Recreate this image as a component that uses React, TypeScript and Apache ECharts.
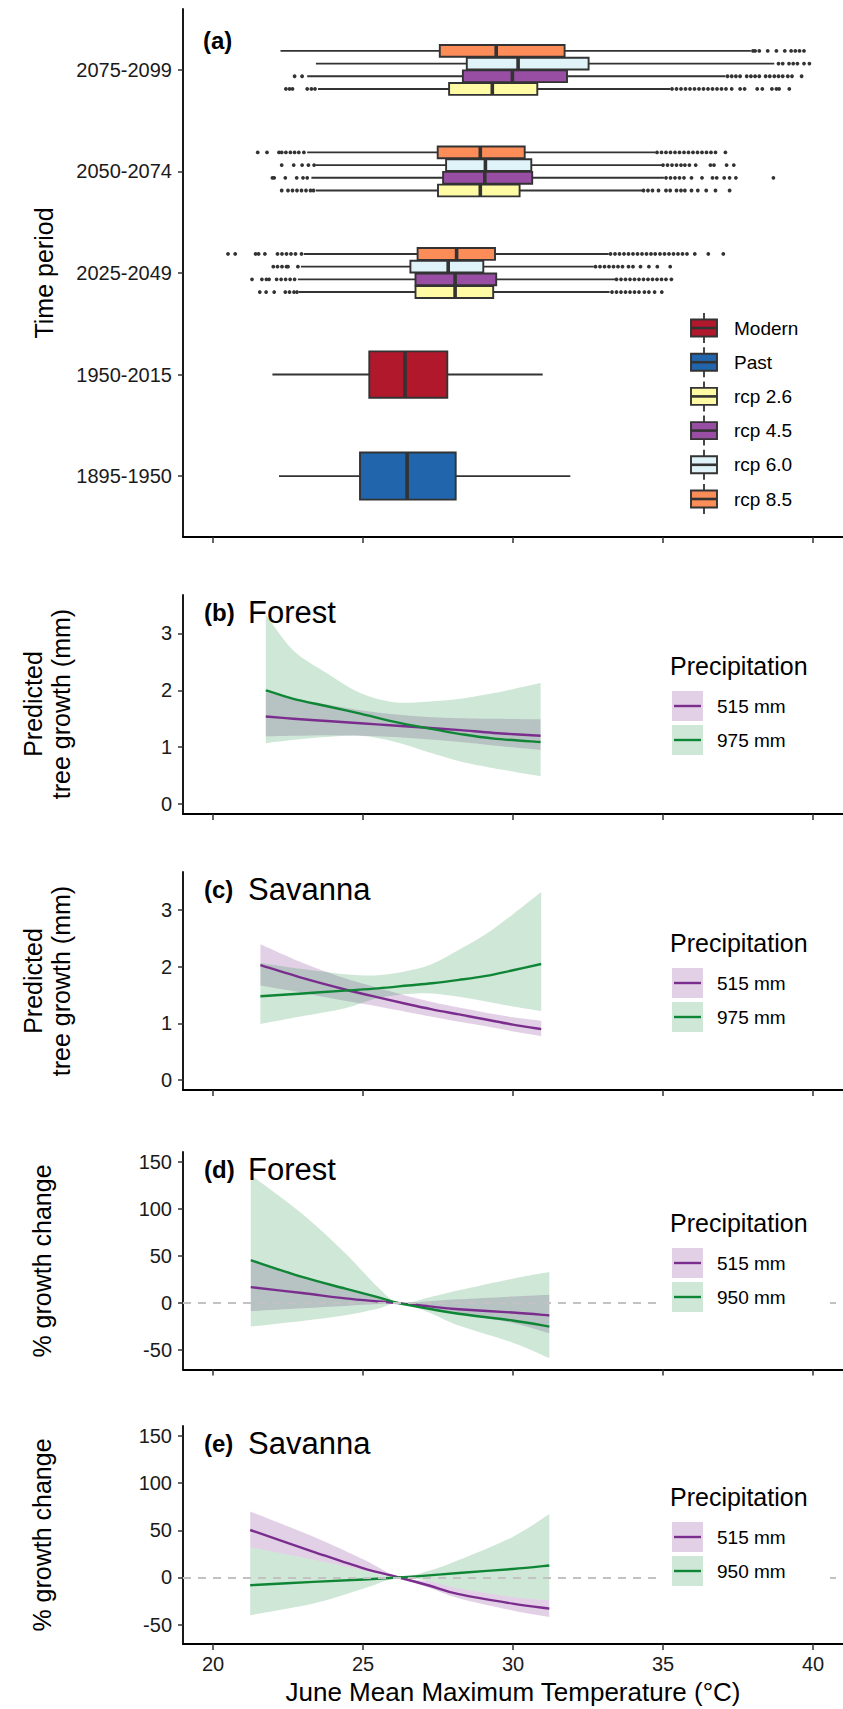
import React, { useEffect, useRef } from "react";
import * as echarts from "echarts";

// ---------- Panel (a) data ----------
const periods = ["1895-1950", "1950-2015", "2025-2049", "2050-2074", "2075-2099"];
const scenarioNames = ["Modern", "Past", "rcp 2.6", "rcp 4.5", "rcp 6.0", "rcp 8.5"];
const scenarioColors = ["#B2182B", "#2166AC", "#FFFBA5", "#984EA3", "#E0F3F8", "#FC8D59"];

// [period position (1 = 1895-1950 ... 5 = 2075-2099), whisker low, Q1, median, Q3, whisker high]
const pastBox = [[1, 22.2, 24.9, 26.47, 28.09, 31.91]];
const modernBox = [[2, 21.98, 25.21, 26.4, 27.81, 30.99]];
const rcp26Box = [
  [3, 22.86, 26.75, 28.07, 29.34, 33.22],
  [4, 23.43, 27.5, 28.91, 30.22, 34.32],
  [5, 23.5, 27.87, 29.31, 30.81, 35.24],
];
const rcp45Box = [
  [3, 22.83, 26.75, 28.07, 29.44, 33.4],
  [4, 23.28, 27.67, 29.06, 30.64, 35.03],
  [5, 23.14, 28.33, 29.98, 31.8, 37.08],
];
const rcp60Box = [
  [3, 22.93, 26.58, 27.84, 29.01, 32.69],
  [4, 23.43, 27.77, 29.08, 30.61, 34.96],
  [5, 23.43, 28.46, 30.17, 32.52, 38.71],
];
const rcp85Box = [
  [3, 23.03, 26.82, 28.12, 29.4, 33.19],
  [4, 23.14, 27.49, 28.91, 30.39, 34.74],
  [5, 22.25, 27.56, 29.44, 31.72, 37.93],
];

// outliers per period
const rcp26Out2025 = [21.56, 21.77, 22.04, 22.41, 22.55, 22.7, 22.8, 33.3, 33.45, 33.6, 33.75, 33.9, 34.05, 34.2, 34.38, 34.53, 34.72, 34.96];
const rcp26Out2050 = [22.29, 22.5, 22.65, 22.8, 22.95, 23.1, 23.25, 23.35, 34.35, 34.5, 34.65, 34.85, 35.1, 35.24, 35.45, 35.6, 35.73, 35.95, 36.16, 36.44, 36.75, 37.22];
const rcp26Out2075 = [22.43, 22.55, 22.65, 23.14, 23.28, 23.4, 35.3, 35.45, 35.6, 35.75, 35.9, 36.05, 36.2, 36.35, 36.5, 36.65, 36.8, 36.95, 37.1, 37.29, 37.57, 37.72, 38.14, 38.31, 38.63, 38.78, 38.87, 39.21];
const rcp45Out2025 = [21.3, 21.63, 21.78, 21.87, 22.12, 22.27, 22.42, 22.57, 22.72, 33.45, 33.6, 33.75, 33.9, 34.05, 34.2, 34.35, 34.5, 34.65, 34.8, 34.95, 35.1, 35.28];
const rcp45Out2050 = [21.98, 22.04, 22.41, 22.79, 23.0, 23.14, 35.1, 35.25, 35.4, 35.55, 35.7, 35.95, 36.3, 36.65, 36.79, 37.04, 37.22, 37.43, 38.68];
const rcp45Out2075 = [22.72, 22.97, 37.15, 37.29, 37.43, 37.57, 37.79, 37.93, 38.07, 38.21, 38.42, 38.56, 38.71, 38.85, 38.99, 39.16, 39.3, 39.62];
const rcp60Out2025 = [22.01, 22.15, 22.3, 22.45, 22.5, 22.83, 32.75, 32.9, 33.05, 33.2, 33.35, 33.5, 33.65, 33.85, 34.0, 34.25, 34.53, 34.81, 35.24];
const rcp60Out2050 = [22.29, 22.69, 22.97, 23.18, 23.37, 35.0, 35.15, 35.3, 35.45, 35.6, 35.73, 35.88, 36.09, 36.58, 36.7, 37.12, 37.36];
const rcp60Out2075 = [38.85, 38.99, 39.2, 39.34, 39.48, 39.7, 39.88];
const rcp85Out2025 = [20.5, 20.74, 21.42, 21.52, 21.73, 22.15, 22.3, 22.45, 22.6, 22.75, 22.95, 33.25, 33.4, 33.55, 33.7, 33.85, 34.0, 34.15, 34.3, 34.45, 34.6, 34.74, 34.9, 35.05, 35.2, 35.35, 35.5, 35.65, 35.8, 36.06, 36.51, 37.01];
const rcp85Out2050 = [21.49, 21.8, 22.2, 22.29, 22.43, 22.58, 22.72, 22.86, 23.03, 34.8, 34.95, 35.1, 35.25, 35.4, 35.55, 35.7, 35.85, 36.0, 36.15, 36.3, 36.45, 36.6, 36.75, 37.08];
const rcp85Out2075 = [38.0, 38.07, 38.21, 38.49, 38.78, 39.06, 39.27, 39.41, 39.55, 39.7];

// ---------- Axis ticks ----------
const xTicks = [20, 25, 30, 35, 40];
const growthTicks = [0, 1, 2, 3];
const changeTicks = [-50, 0, 50, 100, 150];

// ---------- Panel (b) Forest growth ----------
const bX = [21.76, 22.68, 23.8, 24.91, 26.02, 27.13, 28.25, 29.36, 30.92];
const bPurpleLine = [1.54, 1.5, 1.46, 1.42, 1.38, 1.34, 1.3, 1.25, 1.2];
const bPurpleLo = [1.19, 1.2, 1.21, 1.2, 1.18, 1.14, 1.09, 1.03, 0.95];
const bPurpleHi = [1.97, 1.86, 1.75, 1.65, 1.58, 1.53, 1.51, 1.5, 1.49];
const bGreenLine = [2.0, 1.85, 1.72, 1.59, 1.45, 1.335, 1.23, 1.15, 1.09];
const bGreenLo = [1.07, 1.13, 1.18, 1.2, 1.1, 0.92, 0.75, 0.63, 0.49];
const bGreenHi = [3.33, 2.7, 2.3, 1.95, 1.79, 1.8, 1.85, 1.95, 2.13];

// ---------- Panel (c) Savanna growth ----------
const cX = [21.58, 23, 24.4, 25.5, 26.5, 27.3, 28.2, 29.1, 30, 30.94];
const cPurpleLine = [2.03, 1.8, 1.6, 1.46, 1.34, 1.25, 1.16, 1.07, 0.98, 0.9];
const cPurpleLo = [1.67, 1.54, 1.4, 1.3, 1.2, 1.12, 1.03, 0.95, 0.86, 0.78];
const cPurpleHi = [2.4, 2.07, 1.8, 1.63, 1.48, 1.38, 1.28, 1.19, 1.11, 1.05];
const cGreenLine = [1.48, 1.53, 1.58, 1.62, 1.67, 1.71, 1.77, 1.84, 1.94, 2.05];
const cGreenLo = [0.99, 1.13, 1.27, 1.45, 1.52, 1.53, 1.47, 1.39, 1.3, 1.22];
const cGreenHi = [2.07, 1.96, 1.87, 1.85, 1.93, 2.05, 2.3, 2.58, 2.93, 3.32];

// ---------- Panel (d) Forest % change ----------
const dX = [21.26, 22.97, 24.41, 25.49, 26.2, 27.2, 28.19, 29.99, 31.21];
const dPurpleLine = [17, 10.7, 5, 1.8, 0, -3.5, -6.5, -10, -13.1];
const dPurpleLo = [-8.5, -5.5, -3, -1, 0, -6, -11, -21, -32];
const dPurpleHi = [45, 28, 15, 6, 0, 2, 4, 7, 9];
const dGreenLine = [45.6, 27.8, 15.4, 6.4, 0, -6, -11.3, -18.5, -24.9];
const dGreenLo = [-24.9, -19, -13, -6, 0, -10, -23.8, -42, -58.3];
const dGreenHi = [136, 95, 53, 17, 0, 6, 13.6, 26, 33];

// ---------- Panel (e) Savanna % change ----------
const eX = [21.24, 23.35, 25.02, 26.2, 27.2, 28.19, 29.99, 31.21];
const ePurpleLine = [50.3, 27.2, 9.6, 0, -8.5, -17.7, -27.7, -33];
const ePurpleLo = [32, 18.7, 7.5, 0, -11, -22, -35, -41.9];
const ePurpleHi = [69.8, 43.2, 19.1, 0, -4, -11.7, -20.6, -24];
const eGreenLine = [-8.2, -4.7, -2.1, 0, 2.2, 4.8, 9, 12.7];
const eGreenLo = [-40, -27.7, -11.7, 0, -4, -11.7, -20.6, -24];
const eGreenHi = [32, 18.7, 7.5, 0, 7, 18.4, 43, 67.3];

const FONT = "'Liberation Sans', Arial, Helvetica, sans-serif";
const PURPLE = "#7B2D8E";
const GREEN = "#0F8536";
const PURPLE_FILL = "rgba(123,45,142,0.22)";
const GREEN_FILL = "rgba(15,133,54,0.2)";

const grids = [
  { left: 183, top: 9, width: 660, height: 528 },
  { left: 183, top: 595, width: 660, height: 219 },
  { left: 183, top: 872, width: 660, height: 218 },
  { left: 183, top: 1152, width: 660, height: 217.5 },
  { left: 183, top: 1426, width: 660, height: 218 },
];

// Smooth (Catmull-Rom as bezier) band / curve shape, drawn through pixel points given by the axes
echarts.graphic.registerShape(
  "smoothBand",
  (echarts.graphic as any).extendShape({
    shape: { upper: [], lower: [] },
    buildPath(ctx: any, shape: any) {
      const draw = (pts: number[][], move: boolean) => {
        const n = pts.length;
        if (!n) return;
        if (move) ctx.moveTo(pts[0][0], pts[0][1]);
        else ctx.lineTo(pts[0][0], pts[0][1]);
        const t = 1 / 6;
        for (let i = 0; i < n - 1; i++) {
          const p0 = pts[Math.max(i - 1, 0)];
          const p1 = pts[i];
          const p2 = pts[i + 1];
          const p3 = pts[Math.min(i + 2, n - 1)];
          ctx.bezierCurveTo(
            p1[0] + (p2[0] - p0[0]) * t,
            p1[1] + (p2[1] - p0[1]) * t,
            p2[0] - (p3[0] - p1[0]) * t,
            p2[1] - (p3[1] - p1[1]) * t,
            p2[0],
            p2[1]
          );
        }
      };
      draw(shape.upper, true);
      if (shape.lower && shape.lower.length) {
        draw(shape.lower.slice().reverse(), false);
        ctx.closePath();
      }
    },
  })
);

function boxSeries(data: number[][], color: string, offset: number, halfH: number) {
  return {
    type: "custom",
    xAxisIndex: 0,
    yAxisIndex: 0,
    silent: true,
    data,
    z: 3,
    renderItem: (_p: any, api: any) => {
      const y = api.value(0) + offset;
      const pLow = api.coord([api.value(1), y]);
      const pQ1 = api.coord([api.value(2), y]);
      const pMed = api.coord([api.value(3), y]);
      const pQ3 = api.coord([api.value(4), y]);
      const pHigh = api.coord([api.value(5), y]);
      const h = Math.abs(api.size([0, halfH])[1]);
      const st = { stroke: "#333333", lineWidth: 1.9 };
      return {
        type: "group",
        children: [
          { type: "line", shape: { x1: pLow[0], y1: pLow[1], x2: pQ1[0], y2: pQ1[1] }, style: st },
          { type: "line", shape: { x1: pQ3[0], y1: pQ3[1], x2: pHigh[0], y2: pHigh[1] }, style: st },
          {
            type: "rect",
            shape: { x: pQ1[0], y: pQ1[1] - h, width: pQ3[0] - pQ1[0], height: 2 * h },
            style: { fill: color, stroke: "#333333", lineWidth: 1.9 },
          },
          {
            type: "line",
            shape: { x1: pMed[0], y1: pMed[1] - h, x2: pMed[0], y2: pMed[1] + h },
            style: { stroke: "#333333", lineWidth: 3.6 },
          },
        ],
      };
    },
  };
}

function outlierSeries(groups: [number, number[]][], offset: number) {
  const data: number[][] = [];
  groups.forEach(([p, xs]) => xs.forEach((x) => data.push([p, x])));
  return {
    type: "custom",
    xAxisIndex: 0,
    yAxisIndex: 0,
    silent: true,
    data,
    z: 2,
    renderItem: (_p: any, api: any) => {
      const pt = api.coord([api.value(1), api.value(0) + offset]);
      return { type: "circle", shape: { cx: pt[0], cy: pt[1], r: 1.9 }, style: { fill: "#333333" } };
    },
  };
}

function curveSeries(k: number, xs: number[], hi: number[], lo: number[] | null, style: any, z: number) {
  return {
    type: "custom",
    xAxisIndex: k,
    yAxisIndex: k,
    silent: true,
    z,
    data: xs.map((x, i) => [x, hi[i]]),
    renderItem: (params: any, api: any) => {
      if (params.dataIndex !== 0) return null;
      const upper = xs.map((x, i) => api.coord([x, hi[i]]));
      const lower = lo ? xs.map((x, i) => api.coord([x, lo[i]])) : [];
      return { type: "smoothBand", shape: { upper, lower }, style };
    },
  };
}

function panelSeries(k: number, xs: number[], pl: number[], plo: number[], phi: number[], gl: number[], glo: number[], ghi: number[], zero: boolean) {
  const out: any[] = [];
  if (zero) {
    out.push({
      type: "line",
      xAxisIndex: k,
      yAxisIndex: k,
      data: xs.map((x, i) => [x, pl[i]]),
      symbol: "none",
      silent: true,
      z: 1,
      lineStyle: { opacity: 0 },
      markLine: {
        silent: true,
        symbol: "none",
        label: { show: false },
        lineStyle: { type: [8, 7], color: "#C2C2C2", width: 2, opacity: 1 },
        data: [{ yAxis: 0, lineStyle: { color: "#C2C2C2" } }],
      },
    });
  }
  out.push(curveSeries(k, xs, phi, plo, { fill: PURPLE_FILL, stroke: null }, 2));
  out.push(curveSeries(k, xs, ghi, glo, { fill: GREEN_FILL, stroke: null }, 2));
  out.push(curveSeries(k, xs, pl, null, { fill: null, stroke: PURPLE, lineWidth: 2.4 }, 3));
  out.push(curveSeries(k, xs, gl, null, { fill: null, stroke: GREEN, lineWidth: 2.4 }, 3));
  return out;
}

function panelLegend(top: number, labels: string[], cover: boolean) {
  const els: any[] = [];
  if (cover) {
    els.push({ type: "rect", z: 90, shape: { x: 660, y: top + 50, width: 170, height: 115 }, style: { fill: "#ffffff" } });
  }
  els.push({
    type: "text",
    z: 100,
    x: 670,
    y: top + 71,
    style: { text: "Precipitation", font: `25px ${FONT}`, fill: "#000", verticalAlign: "middle", align: "left" },
  });
  const fills = [PURPLE_FILL, GREEN_FILL];
  const cols = [PURPLE, GREEN];
  [0, 1].forEach((i) => {
    const cy = top + 111 + i * 34;
    els.push({ type: "rect", z: 100, shape: { x: 672, y: cy - 15, width: 31, height: 30 }, style: { fill: fills[i] } });
    els.push({ type: "line", z: 101, shape: { x1: 674, y1: cy, x2: 701, y2: cy }, style: { stroke: cols[i], lineWidth: 2.4 } });
    els.push({
      type: "text",
      z: 100,
      x: 717,
      y: cy,
      style: { text: labels[i], font: `19px ${FONT}`, fill: "#000", verticalAlign: "middle", align: "left" },
    });
  });
  return els;
}

function panelTitle(top: number, tag: string, name: string) {
  return [
    { type: "text", z: 100, x: 204, y: top + 17, style: { text: tag, font: `bold 24px ${FONT}`, fill: "#000", verticalAlign: "middle" } },
    { type: "text", z: 100, x: 248, y: top + 17, style: { text: name, font: `31px ${FONT}`, fill: "#000", verticalAlign: "middle" } },
  ];
}

function vText(x: number, y: number, text: string) {
  return {
    type: "text",
    z: 100,
    x,
    y,
    rotation: Math.PI / 2,
    style: { text, font: `25px ${FONT}`, fill: "#000", align: "center", verticalAlign: "middle" },
  };
}

const App: React.FC = () => {
  const ref = useRef<HTMLDivElement>(null);

  useEffect(() => {
    if (!ref.current) return;
    const chart = echarts.init(ref.current, undefined, { renderer: "svg" });

    const axisLine = { show: true, onZero: false, lineStyle: { color: "#000", width: 1.8 } };
    const axisTick = (vals: number[]) => ({ show: true, length: 5, customValues: vals, lineStyle: { color: "#333", width: 1.5 } });

    const xAxes = grids.map((_, k) => ({
      type: "value",
      gridIndex: k,
      min: 19,
      max: 41,
      axisLine,
      axisTick: { ...axisTick(xTicks), length: 6 },
      splitLine: { show: false },
      axisLabel: {
        show: k === 4,
        customValues: xTicks,
        fontSize: 20,
        fontFamily: FONT,
        color: "#1a1a1a",
        margin: 10,
      },
    }));

    const yLabel = (vals: number[], fmt?: (v: number) => string) => ({
      show: true,
      customValues: vals,
      fontSize: 20,
      fontFamily: FONT,
      color: "#1a1a1a",
      margin: 11,
      formatter: fmt ? fmt : (v: number) => String(v),
    });

    const yAxes = [
      {
        type: "value",
        gridIndex: 0,
        min: 0.4,
        max: 5.6,
        axisLine,
        axisTick: axisTick([1, 2, 3, 4, 5]),
        splitLine: { show: false },
        axisLabel: yLabel([1, 2, 3, 4, 5], (v: number) => periods[Math.round(v) - 1] || ""),
      },
      ...[1, 2].map((k) => ({
        type: "value",
        gridIndex: k,
        min: -0.175,
        max: 3.675,
        axisLine,
        axisTick: axisTick(growthTicks),
        splitLine: { show: false },
        axisLabel: yLabel(growthTicks),
      })),
      ...[3, 4].map((k) => ({
        type: "value",
        gridIndex: k,
        min: -70.5,
        max: 160.5,
        axisLine,
        axisTick: axisTick(changeTicks),
        splitLine: { show: false },
        axisLabel: yLabel(changeTicks),
      })),
    ];

    const slot = 0.125;
    const halfSlot = 0.058;
    const series: any[] = [
      boxSeries(pastBox, scenarioColors[1], 0, 0.232),
      boxSeries(modernBox, scenarioColors[0], 0, 0.228),
      outlierSeries([[3, rcp26Out2025], [4, rcp26Out2050], [5, rcp26Out2075]], -1.5 * slot),
      outlierSeries([[3, rcp45Out2025], [4, rcp45Out2050], [5, rcp45Out2075]], -0.5 * slot),
      outlierSeries([[3, rcp60Out2025], [4, rcp60Out2050], [5, rcp60Out2075]], 0.5 * slot),
      outlierSeries([[3, rcp85Out2025], [4, rcp85Out2050], [5, rcp85Out2075]], 1.5 * slot),
      boxSeries(rcp26Box, scenarioColors[2], -1.5 * slot, halfSlot),
      boxSeries(rcp45Box, scenarioColors[3], -0.5 * slot, halfSlot),
      boxSeries(rcp60Box, scenarioColors[4], 0.5 * slot, halfSlot),
      boxSeries(rcp85Box, scenarioColors[5], 1.5 * slot, halfSlot),
      ...panelSeries(1, bX, bPurpleLine, bPurpleLo, bPurpleHi, bGreenLine, bGreenLo, bGreenHi, false),
      ...panelSeries(2, cX, cPurpleLine, cPurpleLo, cPurpleHi, cGreenLine, cGreenLo, cGreenHi, false),
      ...panelSeries(3, dX, dPurpleLine, dPurpleLo, dPurpleHi, dGreenLine, dGreenLo, dGreenHi, true),
      ...panelSeries(4, eX, ePurpleLine, ePurpleLo, ePurpleHi, eGreenLine, eGreenLo, eGreenHi, true),
    ];

    // legend for panel (a)
    const legendA: any[] = [];
    scenarioNames.forEach((nm, i) => {
      const cy = 328 + i * 34.2;
      legendA.push({ type: "line", z: 100, shape: { x1: 704, y1: cy - 15, x2: 704, y2: cy + 15 }, style: { stroke: "#333", lineWidth: 1.8 } });
      legendA.push({
        type: "rect",
        z: 101,
        shape: { x: 691, y: cy - 8.5, width: 26, height: 17 },
        style: { fill: scenarioColors[i], stroke: "#333", lineWidth: 1.9 },
      });
      legendA.push({ type: "line", z: 102, shape: { x1: 691, y1: cy, x2: 717, y2: cy }, style: { stroke: "#333", lineWidth: 2.6 } });
      legendA.push({
        type: "text",
        z: 100,
        x: 734,
        y: cy,
        style: { text: nm, font: `19px ${FONT}`, fill: "#000", verticalAlign: "middle", align: "left" },
      });
    });

    const graphics: any[] = [
      { type: "text", z: 100, x: 203, y: 40, style: { text: "(a)", font: `bold 24px ${FONT}`, fill: "#000", verticalAlign: "middle" } },
      ...legendA,
      ...panelTitle(595, "(b)", "Forest"),
      ...panelTitle(872, "(c)", "Savanna"),
      ...panelTitle(1152, "(d)", "Forest"),
      ...panelTitle(1426, "(e)", "Savanna"),
      ...panelLegend(595, ["515 mm", "975 mm"], false),
      ...panelLegend(872, ["515 mm", "975 mm"], false),
      ...panelLegend(1152, ["515 mm", "950 mm"], true),
      ...panelLegend(1426, ["515 mm", "950 mm"], true),
      vText(44, 273, "Time period"),
      vText(33, 704, "Predicted"),
      vText(61, 704, "tree growth (mm)"),
      vText(33, 981, "Predicted"),
      vText(61, 981, "tree growth (mm)"),
      vText(42, 1261, "% growth change"),
      vText(42, 1535, "% growth change"),
      {
        type: "text",
        z: 100,
        x: 513,
        y: 1692,
        style: { text: "June Mean Maximum Temperature (°C)", font: `26px ${FONT}`, fill: "#000", align: "center", verticalAlign: "middle" },
      },
    ];

    chart.setOption({
      animation: false,
      backgroundColor: "#ffffff",
      grid: grids,
      xAxis: xAxes,
      yAxis: yAxes,
      series,
      graphic: { elements: graphics },
    });

    return () => chart.dispose();
  }, []);

  return <div ref={ref} style={{ position: "absolute", left: 0, top: 0, width: 843, height: 1709 }} />;
};

export default App;
